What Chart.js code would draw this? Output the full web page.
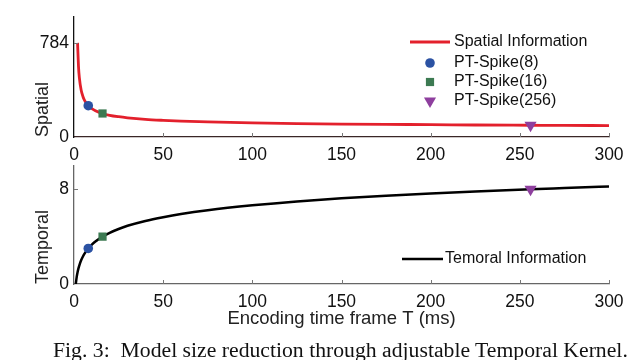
<!DOCTYPE html>
<html><head><meta charset="utf-8">
<script src="https://cdn.jsdelivr.net/npm/chart.js@4.4.1/dist/chart.umd.min.js"></script>
<style>
html,body{margin:0;padding:0;background:#fff;}
#wrap{position:relative;width:640px;height:360px;overflow:hidden;background:#fff;}
#c1{position:absolute;left:0;top:0;}
#c2{position:absolute;left:0;top:150px;}
#cap{position:absolute;left:53px;top:340px;white-space:nowrap;font-family:"Liberation Serif","Times New Roman",serif;font-size:20px;line-height:20px;color:#111;transform:scaleX(1.085);transform-origin:0 0;}
</style></head>
<body><div id="wrap">
<canvas id="c1" width="640" height="175"></canvas>
<canvas id="c2" width="640" height="185"></canvas>
<div id="cap">Fig. 3:&nbsp; Model size reduction through adjustable Temporal Kernel.</div>
</div>
<script>
// ---- data ----
const T        = [1, 1.5, 2, 2.5, 3, 4, 5, 6, 8, 10, 12, 16, 20, 25, 30, 40, 50, 60, 75, 100, 125, 150, 175, 200, 225, 256, 275, 300];
const spatial  = [null, null, 784, 593, 495, 392, 338, 303, 261, 236, 219, 196, 181, 169, 160, 147, 139, 133, 126, 118, 112, 108, 105, 103, 100, 98, 97, 95];
const temporal = [0, 0.58, 1, 1.32, 1.58, 2, 2.32, 2.58, 3, 3.32, 3.58, 4, 4.32, 4.64, 4.91, 5.32, 5.64, 5.91, 6.23, 6.64, 6.97, 7.23, 7.45, 7.64, 7.81, 8, 8.1, 8.23];
const markerLabels = ['PT-Spike(8)', 'PT-Spike(16)', 'PT-Spike(256)'];
const markerT = [8, 16, 256];
const markerSpatial = [261, 196, 98];
const markerTemporal = [3, 4, 8];
const xTickValues = [0, 50, 100, 150, 200, 250, 300];
const yTicksSpatial = [0, 784];
const yTicksTemporal = [0, 8];
const spatialLabel = 'Spatial Information';
const temporalLabel = 'Temoral Information';
const axisTitleSpatial = 'Spatial';
const axisTitleTemporal = 'Temporal';
const xAxisTitle = 'Encoding time frame T (ms)';

// ---- styles ----
const RED = '#e3202c', BLUE = '#2b52a3', GREEN = '#3c7a52', PURPLE = '#8e3f9e';
const markerStyles = [
  {pointStyle: 'circle', radius: 4.8, rotation: 0, color: BLUE},
  {pointStyle: 'rect', radius: 5.8, rotation: 0, color: GREEN},
  {pointStyle: 'triangle', radius: 7, rotation: 180, color: PURPLE}
];
const SANS = '"Liberation Sans", Arial, Helvetica, sans-serif';

function pts(xs, ys) {
  const out = [];
  xs.forEach((x, i) => { if (ys[i] !== null && ys[i] !== undefined) out.push({x, y: ys[i]}); });
  return out;
}

function markerDatasets(values) {
  return markerLabels.map((lab, i) => ({
    label: lab,
    data: [{x: markerT[i], y: values[i]}],
    showLine: false,
    pointStyle: markerStyles[i].pointStyle,
    pointRadius: markerStyles[i].radius,
    pointRotation: markerStyles[i].rotation,
    pointBackgroundColor: markerStyles[i].color,
    pointBorderColor: markerStyles[i].color,
    pointBorderWidth: 0,
    order: 1
  }));
}

// inward tick marks drawn from the library's scales
const innerTicks = {
  id: 'innerTicks',
  afterDatasetsDraw(chart, args, opts) {
    const {ctx, scales: {x, y}, chartArea} = chart;
    ctx.save();
    ctx.strokeStyle = opts.color || '#777';
    ctx.lineWidth = 1;
    x.ticks.forEach(t => {
      const px = Math.round(x.getPixelForValue(t.value)) + 0.5;
      if (px <= chartArea.left + 1) return;
      ctx.beginPath(); ctx.moveTo(px, chartArea.bottom); ctx.lineTo(px, chartArea.bottom - 4); ctx.stroke();
    });
    y.ticks.forEach(t => {
      const py = Math.round(y.getPixelForValue(t.value)) + 0.5;
      if (py >= chartArea.bottom - 1) return;
      ctx.beginPath(); ctx.moveTo(chartArea.left, py); ctx.lineTo(chartArea.left + 4, py); ctx.stroke();
    });
    ctx.restore();
  }
};

function drawMarker(ctx, st, x, y) {
  ctx.fillStyle = st.color;
  ctx.beginPath();
  if (st.pointStyle === 'circle') {
    ctx.arc(x, y, st.radius, 0, Math.PI * 2);
  } else if (st.pointStyle === 'rect') {
    const s = st.radius * Math.SQRT1_2;
    ctx.rect(x - s, y - s, 2 * s, 2 * s);
  } else {
    const r = st.radius;
    ctx.moveTo(x, y + r);
    ctx.lineTo(x - r * Math.sin(Math.PI / 3), y - r / 2);
    ctx.lineTo(x + r * Math.sin(Math.PI / 3), y - r / 2);
    ctx.closePath();
  }
  ctx.fill();
}

// custom legend (text taken from dataset labels)
const panelLegend = {
  id: 'panelLegend',
  afterDraw(chart, args, opts) {
    const ctx = chart.ctx;
    ctx.save();
    ctx.font = '16px ' + SANS;
    ctx.fillStyle = '#111';
    ctx.textBaseline = 'middle';
    ctx.textAlign = 'left';
    const ds = chart.data.datasets;
    const line = opts.line;
    ctx.strokeStyle = ds[line.index].borderColor;
    ctx.lineWidth = ds[line.index].borderWidth;
    ctx.beginPath(); ctx.moveTo(line.x0, line.y); ctx.lineTo(line.x1, line.y); ctx.stroke();
    ctx.fillStyle = '#111';
    ctx.fillText(ds[line.index].label, line.tx, line.y);
    (opts.markers || []).forEach(m => {
      drawMarker(ctx, markerStyles[m.index], m.x, m.y);
      ctx.fillStyle = '#111';
      ctx.fillText(markerLabels[m.index], m.tx, m.y);
    });
    ctx.restore();
  }
};

function axes(cfg) {
  return {
    x: {
      type: 'linear', min: 0, max: 300,
      afterBuildTicks: s => { s.ticks = xTickValues.map(v => ({value: v})); },
      afterFit: s => { s.height = cfg.xHeight; },
      grid: {display: false, drawTicks: false},
      border: {display: true, color: cfg.xAxisColor, width: 1.3},
      ticks: {color: '#111', font: {family: SANS, size: 17.5}, padding: 8, maxRotation: 0},
      title: cfg.xTitle ? {display: true, text: cfg.xTitle, color: '#222', font: {family: SANS, size: 18.5}, padding: {top: 0, bottom: 5}} : {display: false}
    },
    y: {
      type: 'linear', min: 0, max: cfg.yMax,
      afterBuildTicks: s => { s.ticks = cfg.yTicks.map(v => ({value: v})); },
      afterFit: s => { s.width = 42; },
      grid: {display: false, drawTicks: false},
      border: {display: true, color: cfg.yAxisColor, width: 1.3},
      ticks: {color: '#111', font: {family: SANS, size: 17.5}, padding: 5},
      title: {display: true, text: cfg.yTitle, align: 'start', color: '#222', font: {family: SANS, size: 18}, padding: {top: 0, bottom: 0}}
    }
  };
}

new Chart(document.getElementById('c1'), {
  type: 'scatter',
  data: {
    datasets: [
      {label: spatialLabel, data: pts(T, spatial), showLine: true, borderColor: RED, borderWidth: 2.8, pointRadius: 0, cubicInterpolationMode: 'monotone', order: 2},
      ...markerDatasets(markerSpatial)
    ]
  },
  options: {
    responsive: false, animation: false, events: [],
    layout: {padding: {top: 17, right: 31, left: 32, bottom: 0}},
    scales: axes({xHeight: 38, yMax: 1000, yTicks: yTicksSpatial, yTitle: axisTitleSpatial, xAxisColor: '#3a2626', yAxisColor: '#111'}),
    plugins: {
      legend: {display: false}, tooltip: {enabled: false},
      innerTicks: {color: '#777'},
      panelLegend: {
        line: {index: 0, x0: 410, x1: 450, y: 42, tx: 454},
        markers: [{index: 0, x: 430, y: 63, tx: 454}, {index: 1, x: 430, y: 82, tx: 454}, {index: 2, x: 430, y: 101, tx: 454}]
      }
    }
  },
  plugins: [innerTicks, panelLegend]
});

new Chart(document.getElementById('c2'), {
  type: 'scatter',
  data: {
    datasets: [
      {label: temporalLabel, data: pts(T, temporal), showLine: true, borderColor: '#000', borderWidth: 2.5, pointRadius: 0, cubicInterpolationMode: 'monotone', order: 2},
      ...markerDatasets(markerTemporal)
    ]
  },
  options: {
    responsive: false, animation: false, events: [],
    layout: {padding: {top: 14, right: 31, left: 32, bottom: 0}},
    scales: axes({xHeight: 51, yMax: 10, yTicks: yTicksTemporal, yTitle: axisTitleTemporal, xTitle: xAxisTitle, xAxisColor: '#666', yAxisColor: '#666'}),
    plugins: {
      legend: {display: false}, tooltip: {enabled: false},
      innerTicks: {color: '#777'},
      panelLegend: {line: {index: 0, x0: 402, x1: 443, y: 109, tx: 445}, markers: []}
    }
  },
  plugins: [innerTicks, panelLegend]
});
</script>
</body></html>
